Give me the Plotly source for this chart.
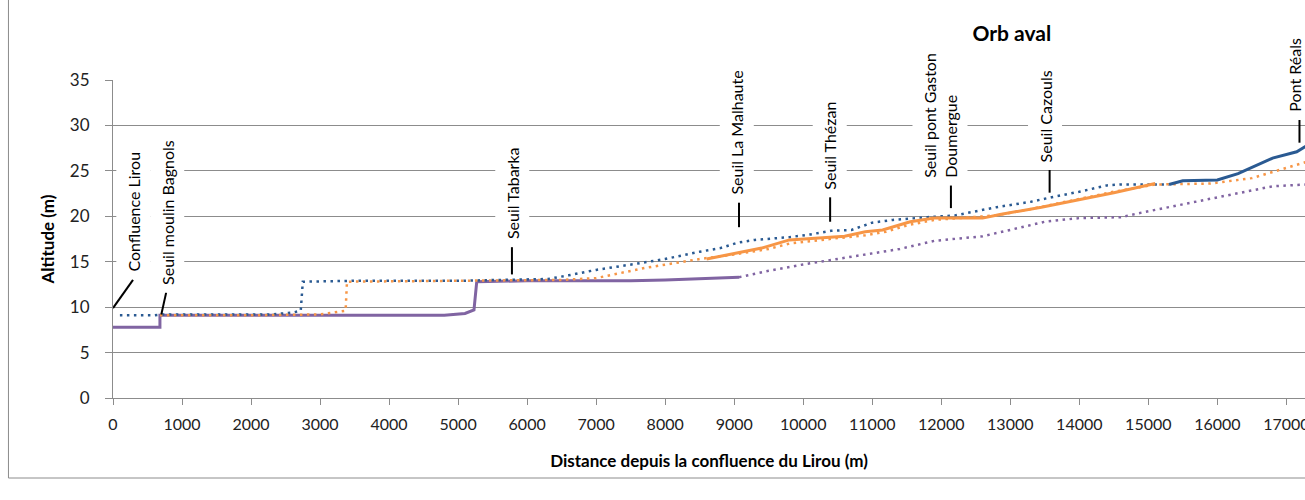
import plotly.graph_objects as go

# ---------------- data (distance in m, altitude in m) ----------------
blue_dot_x = [100, 600, 700, 1500, 2300, 2600, 2720, 2750, 3500, 5000, 5800, 6300, 6600, 7000, 7600,
              8000, 8500, 8800, 9050, 9300, 9800, 10100, 10400, 10700, 11000, 11300, 11800, 12200,
              12800, 13300, 13600, 14000, 14400, 14600, 15300]
blue_dot_y = [9.1, 9.1, 9.2, 9.2, 9.2, 9.4, 9.6, 12.8, 12.9, 12.9, 13.0, 13.1, 13.5, 14.1, 14.8,
              15.3, 16.1, 16.5, 17.1, 17.4, 17.7, 18.0, 18.4, 18.5, 19.3, 19.6, 19.9, 20.1,
              21.0, 21.6, 22.1, 22.7, 23.4, 23.5, 23.5]

blue_solid_x = [15300, 15500, 16000, 16300, 16800, 17150, 17300]
blue_solid_y = [23.5, 23.9, 24.0, 24.7, 26.4, 27.1, 27.8]

orange_dot_x = [680, 2000, 3000, 3300, 3370, 3390, 5000, 6000, 6500, 7000, 7700, 8500, 9000, 9500,
                9800, 10500, 10900, 11200, 11500, 11900, 12300, 12800, 13300, 14000, 14500, 15100,
                15900, 16500, 16900, 17300]
orange_dot_y = [9.1, 9.1, 9.2, 9.5, 9.6, 12.8, 12.9, 12.9, 13.0, 13.2, 14.3, 15.3, 15.8, 16.4,
                17.0, 17.6, 17.9, 18.3, 19.0, 19.6, 19.8, 20.1, 20.8, 21.9, 22.7, 23.5,
                23.6, 24.2, 25.1, 26.0]

orange_solid_x = [8600, 9000, 9400, 9800, 10600, 10900, 11150, 11550, 11900, 12600, 12850, 13450,
                  14000, 14500, 15100]
orange_solid_y = [15.3, 15.9, 16.5, 17.4, 17.8, 18.3, 18.5, 19.4, 19.8, 19.8, 20.2, 21.0,
                  21.8, 22.6, 23.6]

purple_solid_x = [0, 680, 680, 4800, 5100, 5230, 5270, 6000, 7500, 8000, 9070]
purple_solid_y = [7.8, 7.8, 9.1, 9.1, 9.3, 9.7, 12.8, 12.9, 12.9, 13.0, 13.3]

purple_dot_x = [9070, 9500, 10000, 10400, 11000, 11400, 11900, 12600, 13000, 13500, 14000, 14600,
                14900, 15500, 16300, 16800, 17300]
purple_dot_y = [13.3, 14.0, 14.7, 15.2, 15.9, 16.4, 17.3, 17.8, 18.5, 19.4, 19.8, 19.9,
                20.4, 21.3, 22.5, 23.3, 23.5]

# landmarks: name, distance (m), altitude at foot of the leader line
label_text = ["Confluence Lirou", "Seuil moulin Bagnols", "Seuil Tabarka", "Seuil La Malhaute",
              "Seuil Thézan", "Seuil pont Gaston<br>Doumergue", "Seuil Cazouls", "Pont Réals"]
label_x = [0, 700, 5780, 9070, 10390, 12140, 13570, 17190]
label_alt = [9.9, 9.2, 13.6, 18.8, 19.4, 20.9, 22.6, 28.1]

y_ticks = [0, 5, 10, 15, 20, 25, 30, 35]
x_ticks = list(range(0, 18000, 1000))

# ---------------- styles ----------------
lead_dx = [290, 70, 0, 0, 0, 0, 0, 0]
lead_len = [3.1, 2.4, 3.0, 2.7, 2.7, 2.5, 2.5, 2.5]
text_dx = [300, 80, 0, -30, -10, -160, -60, -70]

BLUE = "#2a5a92"
ORANGE = "#f79646"
PURPLE = "#8064a2"
GRID = "#8c8c8c"
FONT = "Lato"
DOT = "2.5px,4.5px"

fig = go.Figure()


def add(x, y, color, dash, width):
    fig.add_trace(go.Scatter(x=x, y=y, mode="lines", showlegend=False, hoverinfo="skip",
                             line=dict(color=color, width=width, dash=dash)))


add(purple_solid_x, purple_solid_y, PURPLE, "solid", 3)
add(blue_dot_x, blue_dot_y, BLUE, DOT, 2.5)
add(orange_dot_x, orange_dot_y, ORANGE, DOT, 2.5)
add(orange_solid_x, orange_solid_y, ORANGE, "solid", 3)
add(blue_solid_x, blue_solid_y, BLUE, "solid", 3)
add(purple_dot_x, purple_dot_y, PURPLE, DOT, 2.5)

shapes = []
annotations = []
for t, x, a, dx, ln, tdx in zip(label_text, label_x, label_alt, lead_dx, lead_len, text_dx):
    shapes.append(dict(type="line", xref="x", yref="y", x0=x, y0=a, x1=x + dx, y1=a + ln,
                       line=dict(color="black", width=2)))
    annotations.append(dict(text=t, x=x + tdx, y=a + ln, xref="x", yref="y",
                            xanchor="center", yanchor="bottom", textangle=-90, align="left",
                            showarrow=False, bgcolor="white", borderpad=7,
                            font=dict(family=FONT, size=16, color="black")))

# chart frame (left and bottom edges visible)
shapes.append(dict(type="rect", xref="paper", yref="paper", x0=-0.0877, x1=1.02, y0=-0.2516,
                   y1=1.3, line=dict(color="#8c8c8c", width=1), fillcolor="rgba(0,0,0,0)",
                   layer="below"))

fig.update_layout(
    width=1305, height=500,
    margin=dict(l=113, r=0, t=80, b=102, autoexpand=False),
    paper_bgcolor="white", plot_bgcolor="white",
    font=dict(family=FONT, color="#222"),
    title=dict(text="<b>Orb aval</b>", x=0.754, xref="paper", xanchor="center",
               y=0.932, yanchor="middle", font=dict(family=FONT, size=21, color="black")),
    shapes=shapes, annotations=annotations,
    xaxis=dict(range=[0, 17270], tickvals=x_ticks, ticktext=[str(v) for v in x_ticks],
               automargin=False, ticklabeloverflow="allow",
               showgrid=False, zeroline=False, showline=True, linecolor=GRID, linewidth=1,
               ticks="outside", ticklen=6, tickcolor=GRID, ticklabelstandoff=6,
               tickfont=dict(family=FONT, size=16, color="#222"),
               title=dict(text="<b>Distance depuis la confluence du Lirou (m)</b>", standoff=22,
                          font=dict(family=FONT, size=17, color="black"))),
    yaxis=dict(range=[0, 35], tickvals=y_ticks, showgrid=True, gridcolor=GRID, gridwidth=1,
               automargin=False,
               zeroline=False, showline=True, linecolor=GRID, linewidth=1,
               ticks="outside", ticklen=7, tickcolor=GRID, ticklabelstandoff=12,
               tickfont=dict(family=FONT, size=17, color="#222"),
               title=dict(text="<b>Altitude (m)</b>", standoff=10,
                          font=dict(family=FONT, size=17, color="black"))),
)

# remove the default page margin so the 1305x500 figure fills the window exactly
fig.write_html("out.html", config={"displayModeBar": False},
               post_script="document.body.style.margin='0';document.body.style.overflow='hidden';")
